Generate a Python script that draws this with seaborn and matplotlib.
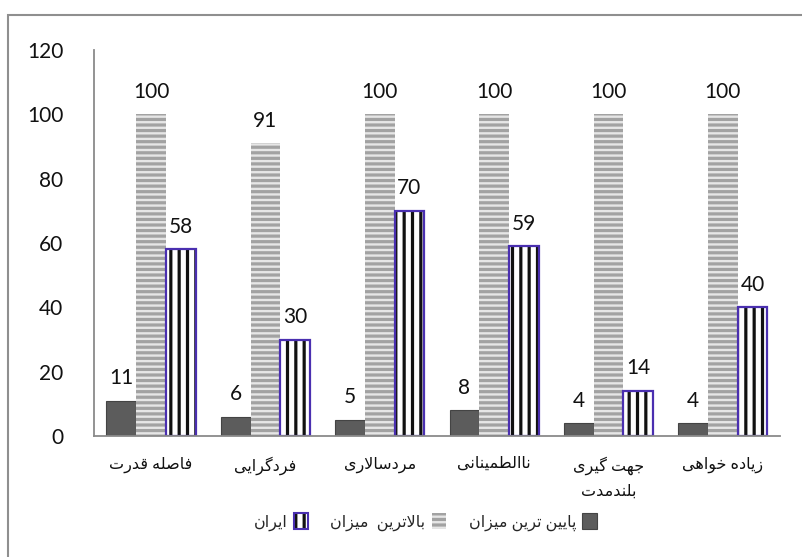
import matplotlib
matplotlib.use("Agg")
import matplotlib.pyplot as plt
from matplotlib.patches import Rectangle
import seaborn as sns
import pandas as pd

# ---- data ----
categories = ["فاصله قدرت", "فردگرایی", "مردسالاری", "ناالطمینانی",
              "جهت گیری\nبلندمدت", "زیاده خواهی"]
lowest = [11, 6, 5, 8, 4, 4]
highest = [100, 91, 100, 100, 100, 100]
iran = [58, 30, 70, 59, 14, 40]
series_names = ["پایین ترین میزان", "بالاترین  میزان", "ایران"]
y_ticks = [0, 20, 40, 60, 80, 100, 120]

# ---- minimal Persian shaping (matplotlib draws glyphs without shaping) ----
_FORMS = {
    # isolated, final, initial, medial
    'ا': ('\uFE8D', '\uFE8E', None, None),
    'آ': ('\uFE81', '\uFE82', None, None),
    'د': ('\uFEA9', '\uFEAA', None, None),
    'ذ': ('\uFEAB', '\uFEAC', None, None),
    'ر': ('\uFEAD', '\uFEAE', None, None),
    'ز': ('\uFEAF', '\uFEB0', None, None),
    'ژ': ('\uFB8A', '\uFB8B', None, None),
    'و': ('\uFEED', '\uFEEE', None, None),
    'ب': ('\uFE8F', '\uFE90', '\uFE91', '\uFE92'),
    'پ': ('\uFB56', '\uFB57', '\uFB58', '\uFB59'),
    'ت': ('\uFE95', '\uFE96', '\uFE97', '\uFE98'),
    'ج': ('\uFE9D', '\uFE9E', '\uFE9F', '\uFEA0'),
    'چ': ('\uFB7A', '\uFB7B', '\uFB7C', '\uFB7D'),
    'ح': ('\uFEA1', '\uFEA2', '\uFEA3', '\uFEA4'),
    'خ': ('\uFEA5', '\uFEA6', '\uFEA7', '\uFEA8'),
    'س': ('\uFEB1', '\uFEB2', '\uFEB3', '\uFEB4'),
    'ش': ('\uFEB5', '\uFEB6', '\uFEB7', '\uFEB8'),
    'ص': ('\uFEB9', '\uFEBA', '\uFEBB', '\uFEBC'),
    'ط': ('\uFEC1', '\uFEC2', '\uFEC3', '\uFEC4'),
    'ع': ('\uFEC9', '\uFECA', '\uFECB', '\uFECC'),
    'غ': ('\uFECD', '\uFECE', '\uFECF', '\uFED0'),
    'ف': ('\uFED1', '\uFED2', '\uFED3', '\uFED4'),
    'ق': ('\uFED5', '\uFED6', '\uFED7', '\uFED8'),
    'ک': ('\uFB8E', '\uFB8F', '\uFB90', '\uFB91'),
    'گ': ('\uFB92', '\uFB93', '\uFB94', '\uFB95'),
    'ل': ('\uFEDD', '\uFEDE', '\uFEDF', '\uFEE0'),
    'م': ('\uFEE1', '\uFEE2', '\uFEE3', '\uFEE4'),
    'ن': ('\uFEE5', '\uFEE6', '\uFEE7', '\uFEE8'),
    'ه': ('\uFEE9', '\uFEEA', '\uFEEB', '\uFEEC'),
    'ی': ('\uFBFC', '\uFBFD', '\uFBFE', '\uFBFF'),
}


def _joins_forward(ch):
    return ch in _FORMS and _FORMS[ch][2] is not None


def shape_line(text):
    out = []
    i = 0
    n = len(text)
    while i < n:
        ch = text[i]
        if ch not in _FORMS:
            out.append(ch)
            i += 1
            continue
        prev = text[i - 1] if i > 0 else ''
        joins_prev = _joins_forward(prev)
        # lam + alef ligature
        if ch == 'ل' and i + 1 < n and text[i + 1] == 'ا':
            out.append('\uFEFC' if joins_prev else '\uFEFB')
            i += 2
            continue
        nxt = text[i + 1] if i + 1 < n else ''
        joins_next = _joins_forward(ch) and nxt in _FORMS
        iso, fin, ini, med = _FORMS[ch]
        if joins_prev and joins_next:
            out.append(med)
        elif joins_prev:
            out.append(fin)
        elif joins_next:
            out.append(ini)
        else:
            out.append(iso)
        i += 1
    return ''.join(reversed(out))


def fa(text):
    return '\n'.join(shape_line(line) for line in text.split('\n'))


# ---- style ----
sns.set_theme(style="white")
plt.rcParams['font.family'] = ['Lato', 'DejaVu Sans']
plt.rcParams['hatch.linewidth'] = 2.3

LOW_FACE, LOW_EDGE = "#5c5c5c", "#444444"
HIGH_FACE, HIGH_LINE = "#e6e6e6", "#a2a2a2"
IRAN_FACE, IRAN_LINE, IRAN_EDGE = "#ffffff", "#111111", "#4a2fb0"

df = pd.DataFrame({
    "category": categories * 3,
    "series": [series_names[0]] * 6 + [series_names[1]] * 6 + [series_names[2]] * 6,
    "value": lowest + highest + iran,
})

fig = plt.figure(figsize=(8.02, 5.57), dpi=100)
ax = fig.add_axes([0.117, 0.2172, 0.8556, 0.693])

sns.barplot(data=df, x="category", y="value", hue="series",
            hue_order=series_names, order=categories, width=0.78,
            palette=[LOW_FACE, HIGH_FACE, IRAN_FACE], ax=ax,
            saturation=1, legend=False)

low_c, high_c, iran_c = ax.containers
for p in low_c:
    p.set_facecolor(LOW_FACE)
    p.set_edgecolor(LOW_EDGE)
    p.set_linewidth(0.8)
for p in high_c:
    p.set_facecolor(HIGH_FACE)
    p.set_edgecolor(HIGH_LINE)
    p.set_hatch("---")
    p.set_linewidth(0)
for p in iran_c:
    p.set_facecolor(IRAN_FACE)
    p.set_edgecolor(IRAN_LINE)
    p.set_hatch("||")
    p.set_linewidth(0)
    ax.add_patch(Rectangle(p.get_xy(), p.get_width(), p.get_height(),
                           fill=False, edgecolor=IRAN_EDGE, linewidth=1.6,
                           zorder=p.get_zorder() + 0.1))

for cont in ax.containers:
    ax.bar_label(cont, padding=9, fontsize=15, color="#111111")

ax.set_ylim(0, 120)
ax.set_xlim(-0.5, len(categories) - 0.5)
ax.set_yticks(y_ticks)
ax.set_yticklabels([str(v) for v in y_ticks], fontsize=15, color="#111111")
ax.tick_params(axis="y", length=0, pad=22)
ax.tick_params(axis="x", length=0, pad=15)
ax.set_xticks(range(len(categories)))
ax.set_xticklabels([fa(c) for c in categories], fontsize=11.5,
                   color="#111111", linespacing=1.8, va="top")
ax.set_xlabel("")
ax.set_ylabel("")
for side in ("top", "right"):
    ax.spines[side].set_visible(False)
for side in ("left", "bottom"):
    ax.spines[side].set_color("#8a8a8a")
    ax.spines[side].set_linewidth(1.3)

# legend: right-to-left, swatch to the right of each label
iran_handle = (
    Rectangle((0, 0), 1, 1, facecolor=IRAN_FACE, edgecolor=IRAN_LINE,
              hatch="||", linewidth=0),
    Rectangle((0, 0), 1, 1, fill=False, edgecolor=IRAN_EDGE, linewidth=1.5),
)
high_handle = Rectangle((0, 0), 1, 1, facecolor=HIGH_FACE,
                        edgecolor=HIGH_LINE, hatch="---", linewidth=0)
low_handle = Rectangle((0, 0), 1, 1, facecolor=LOW_FACE, edgecolor=LOW_EDGE,
                       linewidth=0.8)
labels = [fa(series_names[2]), fa(series_names[1]), fa(series_names[0])]
fig.legend([iran_handle, high_handle, low_handle], labels, loc="center",
           bbox_to_anchor=(0.53, 0.063), ncol=3, frameon=False,
           markerfirst=False, fontsize=11.5, handlelength=0.9,
           handleheight=1.1, handletextpad=0.4, columnspacing=1.4)

# outer frame
fig.patches.append(Rectangle((8 / 802, -0.5), 2.0, 0.5 + (557 - 15) / 557,
                             transform=fig.transFigure, fill=False,
                             edgecolor="#8f8f8f", linewidth=1.5, zorder=-1))

fig.savefig("out.png", dpi=100)
